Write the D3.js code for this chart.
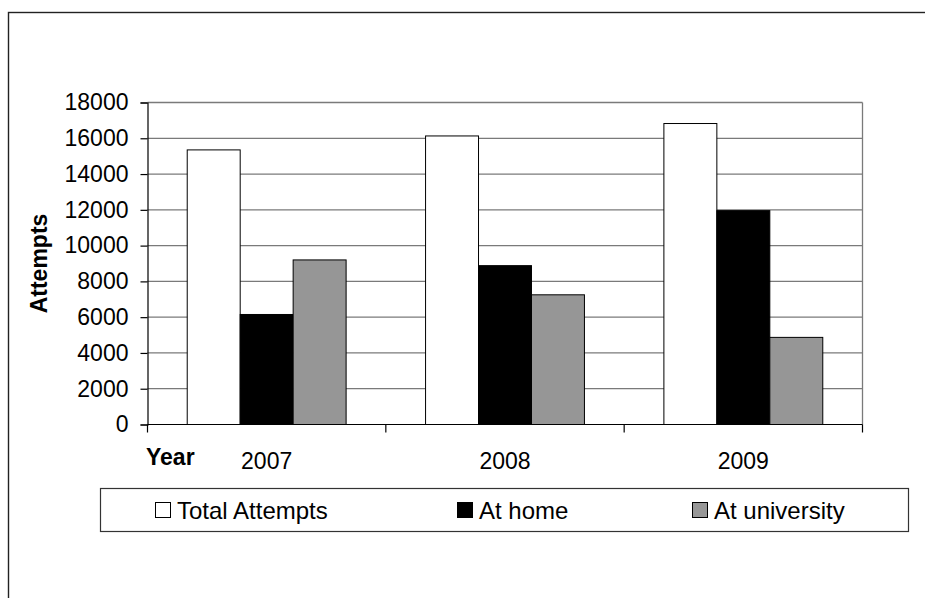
<!DOCTYPE html>
<html>
<head>
<meta charset="utf-8">
<script src="https://cdn.jsdelivr.net/npm/d3@7"></script>
<style>
  html, body { margin: 0; padding: 0; background: #fff; }
  svg { display: block; }
  text { font-family: "Liberation Sans", Arial, sans-serif; fill: #000; }
</style>
</head>
<body>
<svg id="chart" width="925" height="598"></svg>
<script>
// Attempts per year, split by where they were made
const years = ["2007", "2008", "2009"];
const seriesNames = ["Total Attempts", "At home", "At university"];
const totalAttempts = [15350, 16130, 16825];
const atHome = [6150, 8880, 11955];
const atUniversity = [9200, 7250, 4870];
const yTicks = [0, 2000, 4000, 6000, 8000, 10000, 12000, 14000, 16000, 18000];

const fills = ["#ffffff", "#000000", "#969696"];
const values = [totalAttempts, atHome, atUniversity];

const svg = d3.select("#chart");
const FONT = 23;

// outer chart frame (runs off the right and bottom edges)
svg.append("rect")
  .attr("x", 8.5).attr("y", 12.5)
  .attr("width", 1000).attr("height", 1000)
  .attr("fill", "none").attr("stroke", "#222").attr("stroke-width", 1.4);

const plot = { left: 147.5, right: 862.5, top: 102.5, bottom: 424.5 };

const y = d3.scaleLinear().domain([0, 18000]).range([plot.bottom, plot.top]);
const x0 = d3.scaleBand().domain(years).range([plot.left, plot.right]).padding(0);
const x1 = d3.scaleBand().domain(seriesNames).range([0, x0.bandwidth()])
  .paddingInner(0).paddingOuter(0.75);

// horizontal gridlines
svg.append("g").selectAll("line")
  .data(yTicks.filter(d => d > 0))
  .join("line")
  .attr("x1", plot.left).attr("x2", plot.right)
  .attr("y1", d => y(d)).attr("y2", d => y(d))
  .attr("stroke", "#7a7a7a").attr("stroke-width", 1.3);

// right edge of plot area
svg.append("line")
  .attr("x1", plot.right).attr("x2", plot.right)
  .attr("y1", plot.top).attr("y2", plot.bottom)
  .attr("stroke", "#7a7a7a").attr("stroke-width", 1.3);

// bars
const groups = svg.append("g").selectAll("g")
  .data(years)
  .join("g")
  .attr("transform", d => `translate(${x0(d)},0)`);

groups.selectAll("rect")
  .data((yr, i) => seriesNames.map((s, k) => ({ s, k, v: values[k][i] })))
  .join("rect")
  .attr("x", d => x1(d.s))
  .attr("width", x1.bandwidth())
  .attr("y", d => y(d.v))
  .attr("height", d => y(0) - y(d.v))
  .attr("fill", d => fills[d.k])
  .attr("stroke", "#000")
  .attr("stroke-width", 1);

// y axis
const yAxis = d3.axisLeft(y).tickValues(yTicks).tickFormat(d3.format("d"))
  .tickSize(7).tickPadding(12);
const gy = svg.append("g").attr("transform", `translate(${plot.left},0)`).call(yAxis);
gy.select(".domain").attr("stroke", "#000").attr("stroke-width", 1.2);
gy.selectAll(".tick line").attr("stroke", "#000").attr("stroke-width", 1.2);
gy.selectAll(".tick text")
  .attr("font-size", FONT)
  .attr("font-family", "Liberation Sans, Arial, sans-serif");

// x axis line and category boundary ticks
svg.append("line")
  .attr("x1", plot.left).attr("x2", plot.right)
  .attr("y1", plot.bottom).attr("y2", plot.bottom)
  .attr("stroke", "#000").attr("stroke-width", 1.2);

const boundaries = years.map(d => x0(d)).concat([x0(years[years.length - 1]) + x0.bandwidth()]);
svg.append("g").selectAll("line")
  .data(boundaries)
  .join("line")
  .attr("x1", d => d).attr("x2", d => d)
  .attr("y1", plot.bottom).attr("y2", plot.bottom + 8)
  .attr("stroke", "#000").attr("stroke-width", 1.2);

// category labels
svg.append("g").selectAll("text")
  .data(years)
  .join("text")
  .attr("x", d => x0(d) + x0.bandwidth() / 2)
  .attr("y", 468.5)
  .attr("text-anchor", "middle")
  .attr("font-size", FONT)
  .text(d => d);

// axis titles
svg.append("text")
  .attr("x", 146).attr("y", 465)
  .attr("font-size", FONT).attr("font-weight", "bold")
  .text("Year");

svg.append("text")
  .attr("transform", `translate(47,${(plot.top + plot.bottom) / 2}) rotate(-90)`)
  .attr("text-anchor", "middle")
  .attr("font-size", FONT).attr("font-weight", "bold")
  .text("Attempts");

// legend
const legend = svg.append("g");
legend.append("rect")
  .attr("x", 100.5).attr("y", 488.5)
  .attr("width", 808).attr("height", 43)
  .attr("fill", "#fff").attr("stroke", "#333").attr("stroke-width", 1.2);

const legendX = [155, 457, 692];
const items = legend.selectAll("g.item")
  .data(seriesNames)
  .join("g")
  .attr("class", "item")
  .attr("transform", (d, i) => `translate(${legendX[i]},0)`);

items.append("rect")
  .attr("x", 0.5).attr("y", 502.5)
  .attr("width", 15).attr("height", 15)
  .attr("fill", (d, i) => fills[i])
  .attr("stroke", "#000").attr("stroke-width", 1);

items.append("text")
  .attr("x", 22).attr("y", 518.5)
  .attr("font-size", FONT + 1)
  .text(d => d);
</script>
</body>
</html>
